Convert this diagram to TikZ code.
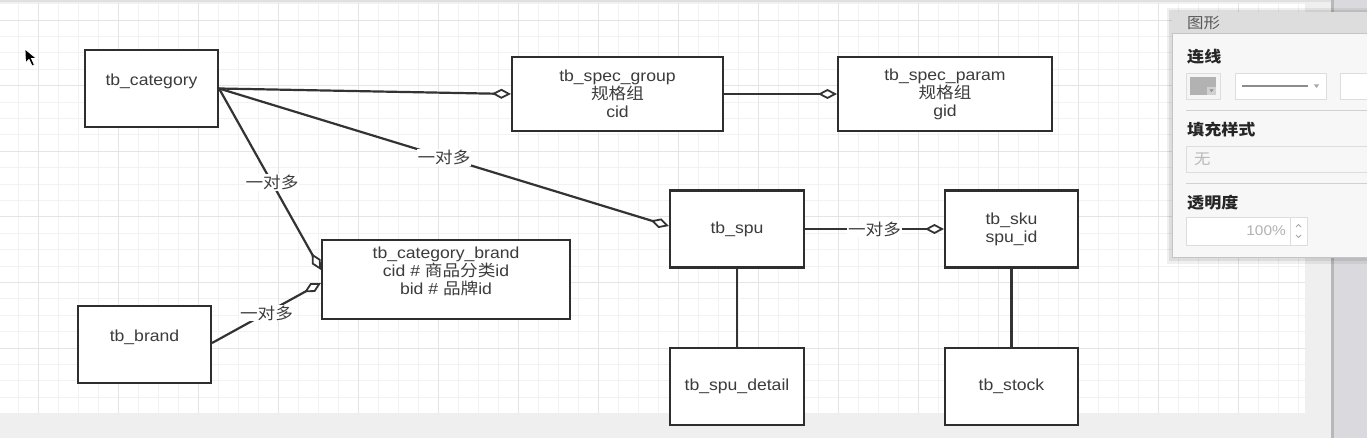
\documentclass[tikz,border=0pt]{standalone}
\usepackage{fontspec}
\setmainfont{Liberation Sans}[FakeStretch=1.1]
\newfontfamily\cjk{Noto Sans CJK SC}[FakeStretch=1.1]
\usetikzlibrary{arrows.meta,calc}
\definecolor{boxc}{HTML}{2E2E2E}
\definecolor{linec}{HTML}{333333}
\definecolor{txt}{HTML}{3C3C3C}
\definecolor{gridminor}{HTML}{F2F2F2}
\definecolor{gridmajor}{HTML}{E4E4E4}
\definecolor{outside}{HTML}{EFEFEF}
\definecolor{strip}{HTML}{DADADE}
\definecolor{panelbg}{HTML}{F7F7F7}
\definecolor{panelbar}{HTML}{DDDDDD}
\definecolor{panelline}{HTML}{C4C4C4}
\definecolor{widgetline}{HTML}{DDDDDD}
\tikzset{
  box/.style={draw=boxc, line width=2.1pt, fill=white, inner sep=0pt, align=center,
    text=txt, font=\fontsize{16}{18}\selectfont, minimum width=133pt, minimum height=77pt},
  conn/.style={draw=linec, line width=2.2pt},
  many/.style={conn, -{Diamond[fill=white, length=19pt, width=10pt, line width=1.8pt]}},
  lbl/.style={fill=white, inner sep=1pt, text=txt, font=\cjk\fontsize{16}{18}\selectfont},
  head/.style={anchor=west, inner sep=0pt, text=black!85, font=\cjk\bfseries\fontsize{15.5}{18}\selectfont},
}
\begin{document}
\begin{tikzpicture}[x=1pt,y=-1pt]
\useasboundingbox (0,0) rectangle (1367,438);
\clip (0,0) rectangle (1367,438);
% background and canvas
\fill[outside] (0,0) rectangle (1367,438);
\fill[black!12] (0,0) rectangle (1333,2.5);
\fill[white] (0,3) rectangle (1305,413);
\foreach \x in {18,38,...,1298} {\draw[gridminor, line width=0.8pt] (\x,3) -- (\x,413);}
\foreach \i in {0,...,24} {\pgfmathsetmacro\yy{3.6+16.4*\i}\draw[gridminor, line width=0.8pt] (0,\yy) -- (1305,\yy);}
\foreach \x in {38,118,...,1278} {\draw[gridmajor, line width=0.9pt] (\x,3) -- (\x,413);}
\foreach \i in {0,...,5} {\pgfmathsetmacro\yy{20+65.6*\i}\draw[gridmajor, line width=0.9pt] (0,\yy) -- (1305,\yy);}
\fill[black!28] (1331,0) rectangle (1334,438);
\fill[strip] (1334,0) rectangle (1367,438);
% cursor
\filldraw[fill=black, draw=white, line width=0.8pt] (25,49) -- (25.5,63) -- (29,59.5) -- (32,66) -- (34.5,65) -- (31.5,58.5) -- (36.5,58.5) -- cycle;
% tables
\node[box] (cat) at (151.5,88.5) {tb\_category\\\mbox{}};
\node[box, minimum width=211pt, minimum height=74pt] (sg) at (617.5,94) {tb\_spec\_group\\{\cjk 规格组}\\cid};
\node[box, minimum width=214pt, minimum height=74pt] (sp) at (945,94) {tb\_spec\_param\\{\cjk 规格组}\\gid};
\node[box, minimum width=134pt] (spu) at (737,229) {tb\_spu};
\node[box] (sku) at (1011.5,229) {tb\_sku\\spu\_id};
\node[box, minimum width=248pt, minimum height=79pt] (cb) at (446,279.5) {tb\_category\_brand\\cid \# {\cjk 商品分类}id\\bid \# {\cjk 品牌}id\\\mbox{}};
\node[box] (brand) at (144.5,344.5) {tb\_brand\\\mbox{}};
\node[box, minimum width=134pt] (detail) at (737,386.5) {tb\_spu\_detail};
\node[box] (stock) at (1011.5,386.5) {tb\_stock};
% connectors
\draw[many] (cat.east) -- (sg.west);
\draw[many] (cat.east) -- ($(spu.west)+(0,-3)$) node[lbl, pos=0.5] {一对多};
\draw[many] (cat.east) -- ($(cb.west)+(0,-9.5)$) node[lbl, pos=0.52] {一对多};
\draw[many] ($(brand.east)+(0,-1.5)$) -- ($(cb.west)+(0,3.5)$) node[lbl, pos=0.5] {一对多};
\draw[many] (sg.east) -- (sp.west);
\draw[many] (spu.east) -- (sku.west) node[lbl, pos=0.5] {一对多};
\draw[conn] (spu.south) -- (detail.north);
\draw[conn] (sku.south) -- (stock.north);
% side panel
\fill[black, opacity=0.08] (1169,10) rectangle (1380,261);
\fill[black, opacity=0.06] (1167,8) rectangle (1380,264);
\filldraw[fill=panelbg, draw=panelline, line width=0.8pt] (1172,12) rectangle (1380,257);
\fill[panelbar] (1172.4,12.4) rectangle (1380,33);
\draw[panelline, line width=0.6pt] (1172,33) -- (1380,33);
\node[anchor=west, inner sep=0pt, text=black!65, font=\cjk\fontsize{15}{18}\selectfont] (ptitle) at (1187,23) {图形};
\node[head] (h1) at (1187,57) {连线};
% colour swatch
\filldraw[fill=black!4, draw=widgetline, line width=0.8pt] (1186,73) rectangle (1220,99);
\fill[black!30] (1190,77) rectangle (1216,95);
\fill[black!18] (1207,87) rectangle (1216,95);
\fill[black!45] (1209.5,89.5) -- (1213.5,89.5) -- (1211.5,92) -- cycle;
% line style dropdown
\filldraw[fill=white, draw=widgetline, line width=0.8pt] (1235,73) rectangle (1326,99);
\draw[black!45, line width=1.6pt] (1242,86) -- (1308,86);
\fill[black!35] (1314,84.5) -- (1319,84.5) -- (1316.5,88) -- cycle;
\filldraw[fill=white, draw=widgetline, line width=0.8pt] (1340,73) rectangle (1380,99);
\draw[black!18, line width=1pt] (1186,111) -- (1380,111);
\node[head] (h2) at (1187,130) {填充样式};
\filldraw[fill=black!3, draw=widgetline, line width=0.8pt] (1186,146) rectangle (1380,172);
\node[anchor=west, inner sep=0pt, text=black!28, font=\cjk\fontsize{15}{18}\selectfont] (fillnone) at (1194,159) {无};
\draw[black!18, line width=1pt] (1186,184) -- (1380,184);
\node[head] (h3) at (1187,203) {透明度};
\filldraw[fill=white, draw=widgetline, line width=0.8pt] (1186,217) rectangle (1290,245);
\filldraw[fill=white, draw=widgetline, line width=0.8pt] (1290,217) rectangle (1307,245);
\node[anchor=east, inner sep=0pt, text=black!30, font=\fontsize{14}{16}\selectfont] (opac) at (1286,231) {100\%};
\draw[black!35, line width=0.9pt] (1296,227) -- (1298.5,224.5) -- (1301,227);
\draw[black!35, line width=0.9pt] (1296,235) -- (1298.5,237.5) -- (1301,235);
\end{tikzpicture}
\end{document}
